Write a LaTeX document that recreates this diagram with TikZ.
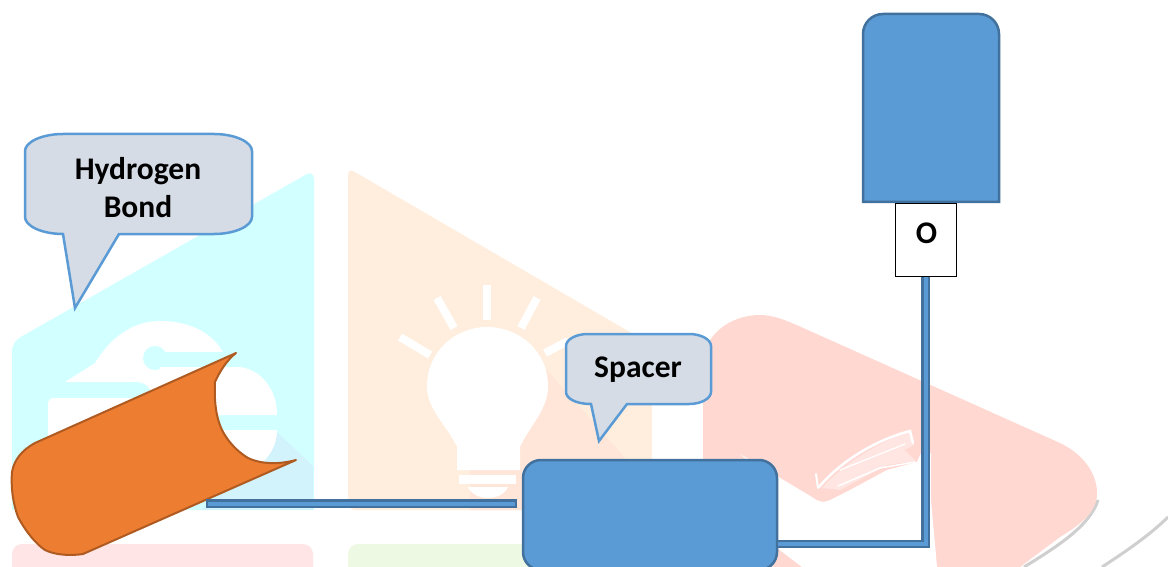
\documentclass[tikz,border=0pt]{standalone}
\usepackage{fontspec}
\setmainfont{Carlito}
\definecolor{wmcyan}{HTML}{D2FFFF}
\definecolor{wmcyantint}{HTML}{D2F3FC}
\definecolor{wmorange}{HTML}{FFEEDD}
\definecolor{wmorangetint}{HTML}{FFE6D8}
\definecolor{wmred}{HTML}{FFD8D2}
\definecolor{wmredpale}{HTML}{FFE6E2}
\definecolor{wmpink}{HTML}{FFE5E5}
\definecolor{wmgreen}{HTML}{EEF9E3}
\definecolor{wmgrey}{HTML}{CFCFCF}
\definecolor{bluefill}{HTML}{5B9BD5}
\definecolor{bluedark}{HTML}{41719C}
\definecolor{orfill}{HTML}{ED7D31}
\definecolor{ordark}{HTML}{AE5A21}
\definecolor{callfill}{HTML}{D6DCE5}
\tikzset{
  ray/.style={line width=8pt,white},
  bookline/.style={white,line cap=round},
  bluebox/.style={draw=bluedark,fill=bluefill,line width=2.5pt},
  callout/.style={draw=bluefill,fill=callfill,line width=2.5pt,line join=miter},
  tube/.style={draw=ordark,fill=orfill,line width=2pt,line join=round},
  connout/.style={line width=8.5pt,bluedark,line join=miter},
  connin/.style={line width=4pt,bluefill,line join=miter},
  lbl/.style={font=\bfseries\fontsize{31.5}{38}\selectfont,align=center,text=black,inner sep=0pt},
  obox/.style={draw=black,fill=white,line width=1pt,inner sep=0pt,minimum width=61pt,minimum height=73pt}
}
\begin{document}
\begin{tikzpicture}[x=1pt,y=-1pt]
\useasboundingbox (0,0) rectangle (1168,567);
\fill[white] (0,0) rectangle (1168,567);
% --- watermark ---
\fill[wmpink,rounded corners=10pt] (12,580) -- (12,544) -- (313,544) -- (313,580) -- cycle;
\fill[wmgreen,rounded corners=10pt] (348,580) -- (348,544) -- (530,544) -- (530,580) -- cycle;
% cyan panel
\fill[wmcyan,rounded corners=9pt] (12,530) -- (12,342) -- (314,170) -- (314,530) -- cycle;
\fill[white] (0,510) rectangle (330,535);
\fill[wmcyantint] (278,433) -- (313,466) -- (313,510) -- (200,510) -- (262,462) -- cycle;
\fill[white] (65,382) -- (95,363) .. controls (112,335) and (135,321) .. (160,321) .. controls (190,321) and (212,333) .. (223,352) -- (225,400) -- (150,400) -- (150,390) .. controls (148,384) and (140,381) .. (128,382) -- cycle;
\fill[wmcyan] (155,352) rectangle (232,367);
\fill[wmcyan] (155,358) circle (12);
\fill[white] (160,367) -- (240,367) .. controls (262,370) and (277,390) .. (277,415) -- (200,415) -- (200,440) -- (160,440) -- cycle;
\fill[white] (48,440) -- (48,405) .. controls (48,400) and (50,398) .. (54,398) -- (150,398) -- (200,420) -- (150,450) -- cycle;
\fill[white] (200,430) -- (277,430) .. controls (277,445) and (270,455) .. (263,462) -- (200,470) -- cycle;
% orange panel
\fill[wmorange,rounded corners=7pt] (348,510) -- (348,168) -- (652,345) -- (652,510) -- cycle;
\fill[wmorangetint] (547,370) -- (625,458) -- (560,510) -- (470,510) -- (470,440) -- cycle;
\fill[white] (427,386) .. controls (427,352) and (455,327) .. (487,327) .. controls (520,327) and (548,352) .. (548,386) .. controls (548,410) and (530,425) .. (520,447) -- (520,470) -- (457,470) -- (457,447) .. controls (447,425) and (427,410) .. (427,386) -- cycle;
\fill[white] (459,475) rectangle (516,484);
\fill[white] (468,487) -- (508,487) .. controls (505,494) and (497,498) .. (488,498) .. controls (479,498) and (471,494) .. (468,487) -- cycle;
\draw[ray] (487,285) -- (487,320);
\draw[ray] (437,298) -- (454,328);
\draw[ray] (537,298) -- (521,328);
\draw[ray] (400,337) -- (430,355);
\draw[ray] (545,353) -- (568,341);
% red panel
\draw[wmgrey,line width=3pt] (1098,500) .. controls (1090,525) and (1060,545) .. (1024,567);
\draw[wmgrey,line width=3pt] (1168,517) .. controls (1150,535) and (1125,552) .. (1102,567);
\fill[wmred] (703,480) -- (703,365) .. controls (703,335) and (730,315) .. (760,315) .. controls (775,315) and (790,322) .. (810,331) -- (1060,443) .. controls (1085,455) and (1097,475) .. (1097,493) .. controls (1097,510) and (1085,522) .. (1060,537) -- (1020,567) -- (760,567) -- cycle;
\fill[white] (740,454) -- (812,497) .. controls (818,502) and (824,503) .. (830,500) -- (850,490) -- (887,470) -- (917,462) -- (921,453) -- (931,453) -- (931,500) -- (937,567) -- (802,567) -- (777,548) -- (760,470) -- cycle;
\fill[wmredpale] (822,488) .. controls (845,462) and (880,442) .. (910,431) -- (914,445) -- (904,450) -- (916,461) -- (887,465) -- (840,490) -- cycle;
\draw[bookline,line width=2.5pt] (819,487) .. controls (840,462) and (875,440) .. (910,431) -- (913,443);
\draw[bookline,line width=2pt] (816,474) -- (818,488);
\draw[bookline,line width=1.2pt] (840,470) -- (905,444);
\draw[bookline,line width=1.5pt] (838,486) -- (880,468) -- (915,462);
% --- connectors and boxes ---
\node[bluebox,rounded corners=18pt,minimum width=254pt,minimum height=110pt,inner sep=0pt] (spbox) at (650,515) {};
\path[tube] (236,353) -- (35,443) .. controls (22,450) and (14,460) .. (12,472) .. controls (11,485) and (12,500) .. (18,517) .. controls (26,532) and (36,544) .. (45,550) .. controls (55,555) and (70,556) .. (83,554) -- (296,460) .. controls (285,463) and (265,466) .. (248,458) .. controls (238,452) and (228,442) .. (222,430) .. controls (216,418) and (214,400) .. (215,382) .. controls (220,371) and (227,360) .. (236,353) -- cycle;
\path[bluebox,rounded corners=20pt] (863,140) -- (863,14) -- (999,14) -- (999,140) [sharp corners] -- (999,202) -- (863,202) -- cycle;
\node[obox] (obx) at (925.5,239.7) {};
\node[lbl] (olab) at (926.5,233.5) {O};
\coordinate (barstart) at (206,503.5);
\coordinate (elbowrow) at (0,544);
\draw[connout,shorten >=5pt] (barstart) -- (barstart -| spbox.west);
\draw[connin,shorten <=2.2pt,shorten >=7.2pt] (barstart) -- (barstart -| spbox.west);
\draw[connout] (spbox.east |- elbowrow) -| (obx.south);
\draw[connin] (spbox.east |- elbowrow) -| (obx.south);
% --- callouts ---
\path[callout] (63,134) -- (214,134) .. controls (235,134) and (252,142) .. (252,151) -- (252,217) .. controls (252,226) and (235,234) .. (214,234) -- (119,234) -- (75,308) -- (63,234) .. controls (42,234) and (25,226) .. (25,217) -- (25,151) .. controls (25,142) and (42,134) .. (63,134) -- cycle;
\node[lbl] (hb) at (138,188) {Hydrogen\\Bond};
\path[callout] (588,334) -- (689,334) .. controls (702,334) and (711,340) .. (711,346) -- (711,392) .. controls (711,398) and (702,404) .. (689,404) -- (627,404) -- (599,441) -- (591,404) .. controls (575,404) and (566,398) .. (566,392) -- (566,346) .. controls (566,340) and (575,334) .. (588,334) -- cycle;
\node[lbl] (sp) at (638,370) {Spacer};
\end{tikzpicture}
\end{document}
